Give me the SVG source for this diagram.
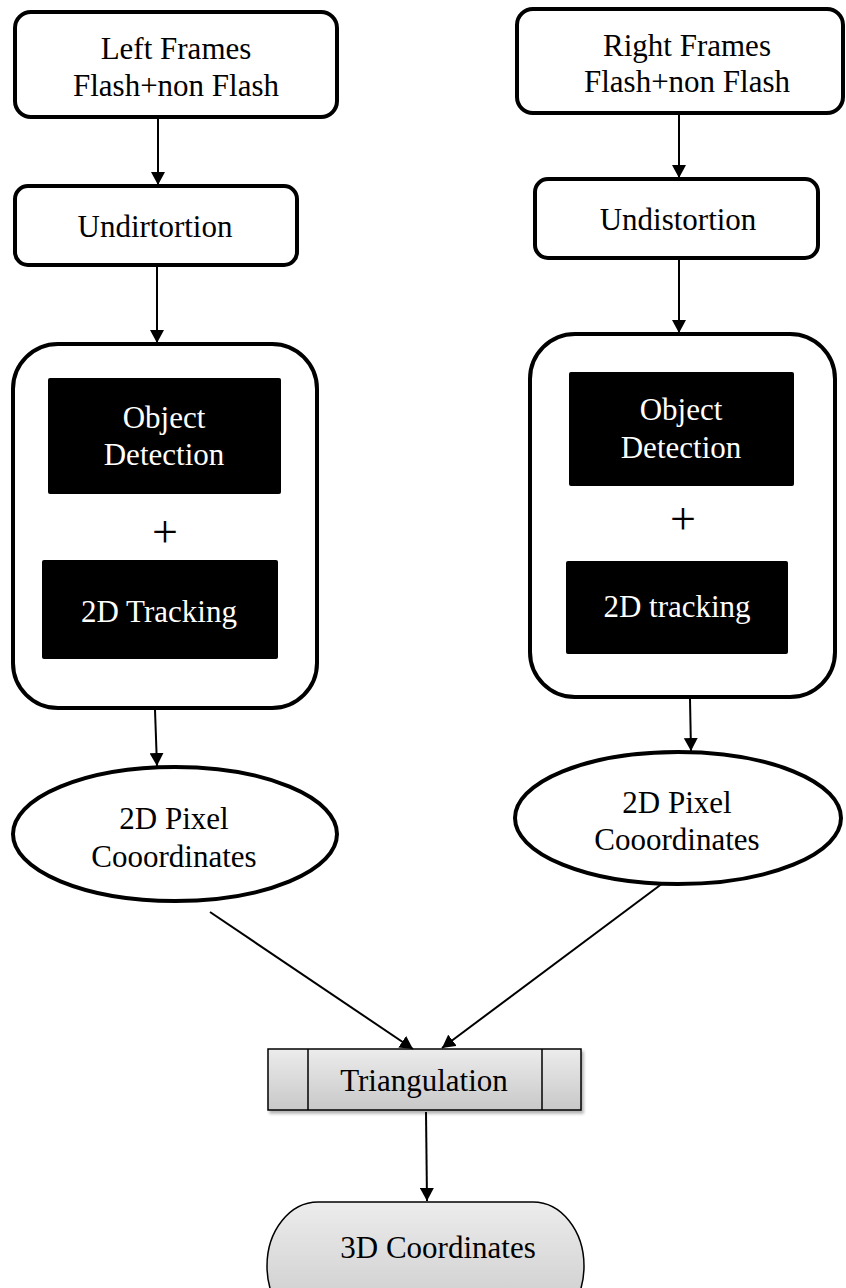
<svg xmlns="http://www.w3.org/2000/svg" width="846" height="1288" viewBox="0 0 846 1288">
<style>
  text { font-family: "Liberation Serif", "Times New Roman", serif; font-size: 31px; text-anchor: middle; fill: #000; }
  .w { fill: #fff; }
  .thick { fill: #fff; stroke: #000; stroke-width: 4; }
  .blk { fill: #000; stroke: none; }
  .plus { font-size: 46px; }
  .conn { stroke: #000; stroke-width: 2; fill: none; marker-end: url(#arr); }
  .thin { stroke: #000; stroke-width: 1.5; }
</style>
<defs>
  <marker id="arr" markerUnits="userSpaceOnUse" markerWidth="14" markerHeight="14" refX="13" refY="7" orient="auto">
    <path d="M0,0 L13,7 L0,14 Z" fill="#000"/>
  </marker>
  <linearGradient id="g1" x1="0" y1="0" x2="0" y2="1">
    <stop offset="0" stop-color="#ececec"/>
    <stop offset="1" stop-color="#c8c8c8"/>
  </linearGradient>
  <filter id="sh" x="-10%" y="-20%" width="130%" height="150%">
    <feDropShadow dx="2" dy="3" stdDeviation="1.5" flood-color="#000" flood-opacity="0.3"/>
  </filter>
</defs>

<g id="left-frames">
  <rect class="thick" x="15" y="12" width="322" height="105" rx="16"/>
  <text x="176" y="59">Left Frames</text>
  <text x="176" y="96">Flash+non Flash</text>
</g>
<g id="right-frames">
  <rect class="thick" x="517" y="9" width="326" height="104" rx="16"/>
  <text x="687" y="56">Right Frames</text>
  <text x="687" y="92">Flash+non Flash</text>
</g>
<g id="left-undistortion">
  <rect class="thick" x="15" y="186" width="282" height="79" rx="13"/>
  <text x="155" y="237">Undirtortion</text>
</g>
<g id="right-undistortion">
  <rect class="thick" x="535" y="179" width="283" height="79" rx="13"/>
  <text x="678" y="230">Undistortion</text>
</g>
<g id="left-processing">
  <rect class="thick" x="13" y="344" width="304" height="364" rx="45"/>
  <rect class="blk" x="48" y="378" width="233" height="116" rx="2"/>
  <text class="w" x="164" y="428">Object</text>
  <text class="w" x="164" y="465">Detection</text>
  <text class="plus" x="165" y="547">+</text>
  <rect class="blk" x="42" y="560" width="236" height="99" rx="2"/>
  <text class="w" x="159" y="622">2D Tracking</text>
</g>
<g id="right-processing">
  <rect class="thick" x="530" y="334" width="305" height="363" rx="45"/>
  <rect class="blk" x="569" y="372" width="225" height="114" rx="2"/>
  <text class="w" x="681" y="420">Object</text>
  <text class="w" x="681" y="458">Detection</text>
  <text class="plus" x="683" y="534">+</text>
  <rect class="blk" x="566" y="561" width="222" height="93" rx="2"/>
  <text class="w" x="677" y="617">2D tracking</text>
</g>
<g id="left-pixels">
  <ellipse class="thick" cx="175" cy="834" rx="162" ry="67"/>
  <text x="174" y="829">2D Pixel</text>
  <text x="174" y="867">Cooordinates</text>
</g>
<g id="right-pixels">
  <ellipse class="thick" cx="678" cy="818" rx="163" ry="66"/>
  <text x="677" y="813">2D Pixel</text>
  <text x="677" y="850">Cooordinates</text>
</g>
<g id="triangulation">
  <rect x="268" y="1049" width="313" height="61" fill="url(#g1)" stroke="#000" stroke-width="1.5" filter="url(#sh)"/>
  <line class="thin" x1="308" y1="1049" x2="308" y2="1110"/>
  <line class="thin" x1="542" y1="1049" x2="542" y2="1110"/>
  <text x="424" y="1091">Triangulation</text>
</g>
<g id="coordinates-3d">
  <path d="M318,1202 H533 A51,64 0 0 1 533,1330 H318 A51,64 0 0 1 318,1202 Z" fill="url(#g1)" stroke="#000" stroke-width="1.5"/>
  <text x="438" y="1258">3D Coordinates</text>
</g>

<g id="connectors">
  <line class="conn" x1="158" y1="119" x2="158" y2="185"/>
  <line class="conn" x1="679" y1="115" x2="679" y2="178"/>
  <line class="conn" x1="157" y1="267" x2="157" y2="343"/>
  <line class="conn" x1="679" y1="260" x2="679" y2="333"/>
  <line class="conn" x1="155" y1="710" x2="157" y2="766"/>
  <line class="conn" x1="690" y1="699" x2="691" y2="751"/>
  <line class="conn" x1="210" y1="912" x2="413" y2="1049"/>
  <line class="conn" x1="663" y1="883" x2="442" y2="1048"/>
  <line class="conn" x1="426" y1="1112" x2="427" y2="1201"/>
</g>
</svg>
